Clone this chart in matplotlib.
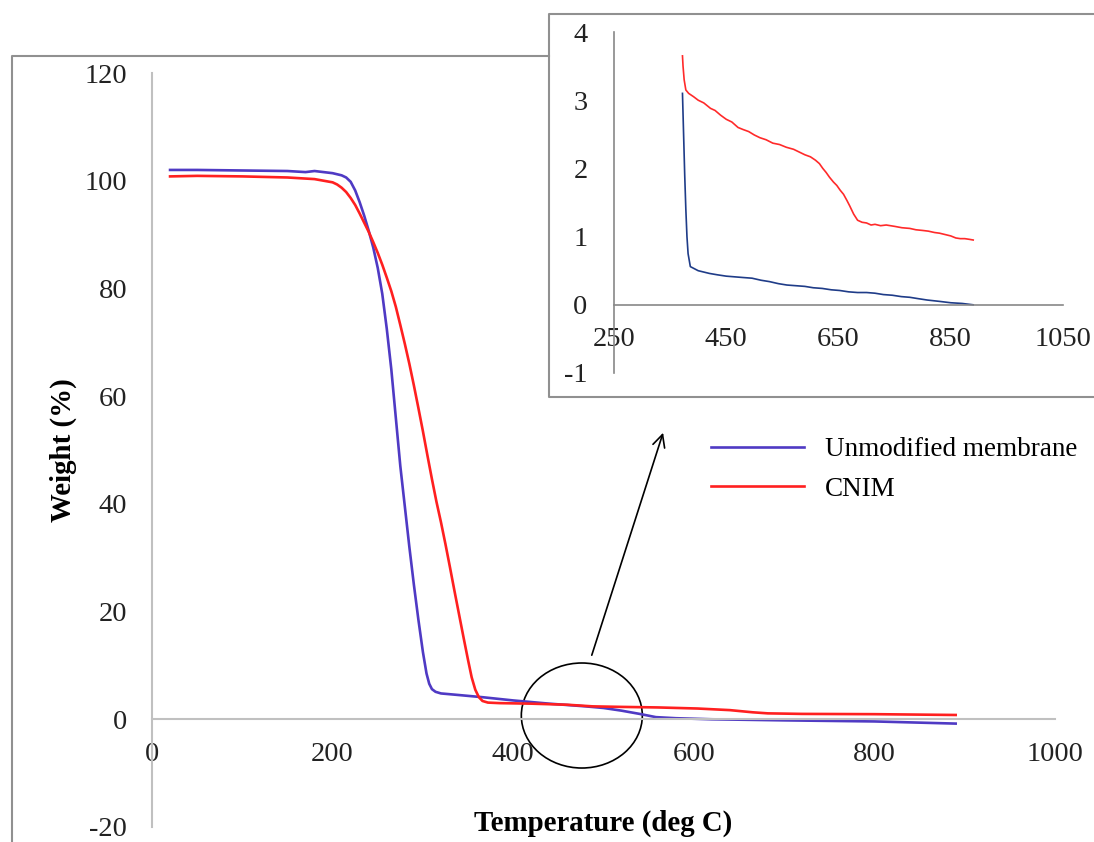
#!/usr/bin/env python
# TGA curves: unmodified membrane vs CNIM, with a zoomed inset of the residue region
import matplotlib.pyplot as plt
from matplotlib.patches import Ellipse

# main TGA curves (temperature in deg C, weight in %)
temp_unmod = [20, 50, 100, 150, 170, 180, 190, 200, 205, 210, 215, 220, 225, 230, 235, 240,
              245, 250, 255, 260, 265, 270, 275, 280, 285, 290, 295, 300, 304, 307, 310, 314,
              320, 340, 366, 400, 440, 480, 500, 520, 540, 558, 580, 620, 700, 800, 890]
weight_unmod = [102.0, 102.0, 101.9, 101.8, 101.6, 101.8, 101.6, 101.4, 101.2, 101.0, 100.6,
                99.8, 98.2, 96.0, 93.5, 90.7, 87.6, 83.8, 79.0, 72.5, 65.0, 56.0, 47.0, 39.5,
                32.0, 25.0, 18.5, 12.5, 8.5, 6.6, 5.6, 5.1, 4.8, 4.5, 4.1, 3.5, 2.9, 2.4, 2.1,
                1.6, 1.0, 0.4, 0.2, 0.0, -0.2, -0.4, -0.8]

temp_cnim = [20, 50, 100, 150, 180, 200, 205, 210, 215, 220, 225, 230, 235, 240, 245, 250,
             255, 260, 265, 270, 275, 280, 285, 290, 295, 300, 305, 310, 315, 320, 325, 330,
             335, 340, 345, 350, 354, 358, 362, 366, 372, 385, 420, 460, 488, 520, 560, 604,
             640, 665, 682, 720, 800, 890]
weight_cnim = [100.8, 100.9, 100.8, 100.6, 100.3, 99.7, 99.3, 98.7, 97.9, 96.8, 95.5, 93.9,
               92.2, 90.5, 88.6, 86.6, 84.4, 82.0, 79.5, 76.6, 73.2, 69.7, 66.0, 62.0, 57.8,
               53.5, 49.0, 44.6, 40.4, 36.6, 32.5, 28.2, 23.8, 19.5, 15.2, 11.0, 7.8, 5.5, 4.1,
               3.4, 3.1, 3.0, 2.9, 2.7, 2.4, 2.3, 2.2, 2.0, 1.7, 1.3, 1.1, 1.0, 0.95, 0.8]

# inset: residue above ~370 deg C
temp_in_unmod = [372, 374, 376, 378, 380, 382, 386, 400, 420, 434, 450, 465, 480, 496, 512,
                 527, 543, 558, 574, 590, 605, 621, 637, 652, 668, 684, 700, 715, 730, 746,
                 762, 777, 792, 808, 830, 850, 870, 890]
weight_in_unmod = [3.1, 2.5, 1.9, 1.4, 1.0, 0.75, 0.56, 0.5, 0.46, 0.44, 0.42, 0.41, 0.40,
                   0.39, 0.36, 0.34, 0.31, 0.29, 0.28, 0.27, 0.25, 0.24, 0.22, 0.21, 0.19,
                   0.18, 0.18, 0.17, 0.15, 0.14, 0.12, 0.11, 0.09, 0.07, 0.05, 0.03, 0.02, 0.0]

temp_in_cnim = [372, 373, 375, 378, 383, 392, 400, 410, 422, 430, 440, 450, 460, 471, 480,
                490, 500, 510, 521, 533, 545, 557, 570, 580, 590, 600, 609, 616, 622, 628,
                634, 641, 647, 653, 659, 665, 670, 677, 684, 692, 700, 708, 715, 725, 735,
                750, 763, 777, 788, 800, 810, 821, 830, 840, 850, 859, 867, 875, 883, 890]
weight_in_cnim = [3.65, 3.5, 3.3, 3.15, 3.1, 3.05, 3.0, 2.96, 2.88, 2.85, 2.78, 2.72, 2.68,
                  2.6, 2.57, 2.54, 2.49, 2.45, 2.42, 2.37, 2.35, 2.31, 2.28, 2.24, 2.2, 2.17,
                  2.12, 2.07, 2.0, 1.94, 1.87, 1.8, 1.75, 1.68, 1.62, 1.53, 1.45, 1.33, 1.24,
                  1.21, 1.2, 1.17, 1.18, 1.16, 1.17, 1.15, 1.13, 1.12, 1.1, 1.09, 1.08, 1.06,
                  1.05, 1.03, 1.01, 0.98, 0.97, 0.97, 0.96, 0.95]

W, H = 1094, 842
TICK_FS = 20.5
LEG_FS = 19.5
LAB_FS = 20.8
plt.rcParams['font.family'] = ['Liberation Serif', 'DejaVu Serif']
plt.rcParams['axes.unicode_minus'] = False

fig = plt.figure(figsize=(W / 100, H / 100), dpi=100)

# background layer in pixel coords for the outer frames
bg = fig.add_axes([0, 0, 1, 1], zorder=-1)
bg.set_xlim(0, W)
bg.set_ylim(H, 0)
bg.axis('off')
bg.plot([12, 12, 549], [H + 5, 56, 56], color='#909090', lw=1.5)
bg.plot([W + 5, 549, 549, W + 5], [14, 14, 397, 397], color='#909090', lw=1.5)

# main plot
ax = fig.add_axes([152 / W, 1 - 827 / H, 903 / W, 754 / H])
ax.patch.set_alpha(0)
ax.plot(temp_unmod, weight_unmod, color='#4f3ac4', lw=1.9, label='Unmodified membrane')
ax.plot(temp_cnim, weight_cnim, color='#ff2020', lw=1.9, label='CNIM')
ax.set_xlim(0, 1000)
ax.set_ylim(-20, 120)
ax.set_xticks(range(0, 1001, 200))
ax.set_yticks(range(-20, 121, 20))
for s in ['top', 'right']:
    ax.spines[s].set_visible(False)
ax.spines['bottom'].set_position(('data', 0))
for s in ['left', 'bottom']:
    ax.spines[s].set_color('#c0c0c0')
    ax.spines[s].set_linewidth(1.5)
ax.tick_params(axis='x', length=0, pad=16, labelsize=TICK_FS, labelcolor='#222222')
ax.tick_params(axis='y', length=0, pad=18, labelsize=TICK_FS, labelcolor='#222222')
ax.set_xlabel('Temperature (deg C)', fontsize=LAB_FS, fontweight='bold')
ax.xaxis.set_label_coords(0.5, 0.023)
ax.set_ylabel('Weight (%)', fontsize=LAB_FS, fontweight='bold')
ax.yaxis.set_label_coords(-0.083, 0.5)

ax.legend(loc='upper left', bbox_to_anchor=(711 / W, 1 - 437 / H),
          bbox_transform=fig.transFigure, frameon=False, borderpad=0,
          borderaxespad=0, handlelength=3.45, handletextpad=0.75,
          labelspacing=0.55, fontsize=LEG_FS)

# circle round the residue region and arrow to the inset
ax.add_patch(Ellipse((476, 0.7), 134, 19.5, fill=False, edgecolor='black', lw=1.2))
ax.annotate('', xy=(566, 53.2), xytext=(487, 11.9),
            arrowprops=dict(arrowstyle='->', color='black', lw=1.2,
                            mutation_scale=22, shrinkA=0, shrinkB=0))

# inset
ins = fig.add_axes([614 / W, 1 - 373 / H, 449 / W, 341 / H])
ins.patch.set_alpha(0)
ins.plot(temp_in_unmod, weight_in_unmod, color='#1f3c88', lw=1.2)
ins.plot(temp_in_cnim, weight_in_cnim, color='#ff2a2a', lw=1.2)
ins.set_xlim(250, 1050)
ins.set_ylim(-1, 4)
ins.set_xticks(range(250, 1051, 200))
ins.set_yticks(range(-1, 5))
for s in ['top', 'right']:
    ins.spines[s].set_visible(False)
ins.spines['bottom'].set_position(('data', 0))
for s in ['left', 'bottom']:
    ins.spines[s].set_color('#888888')
    ins.spines[s].set_linewidth(1.2)
ins.tick_params(axis='x', length=0, pad=16, labelsize=TICK_FS, labelcolor='#222222')
ins.tick_params(axis='y', length=0, pad=19, labelsize=TICK_FS, labelcolor='#222222')

fig.savefig('out.png', dpi=100)
